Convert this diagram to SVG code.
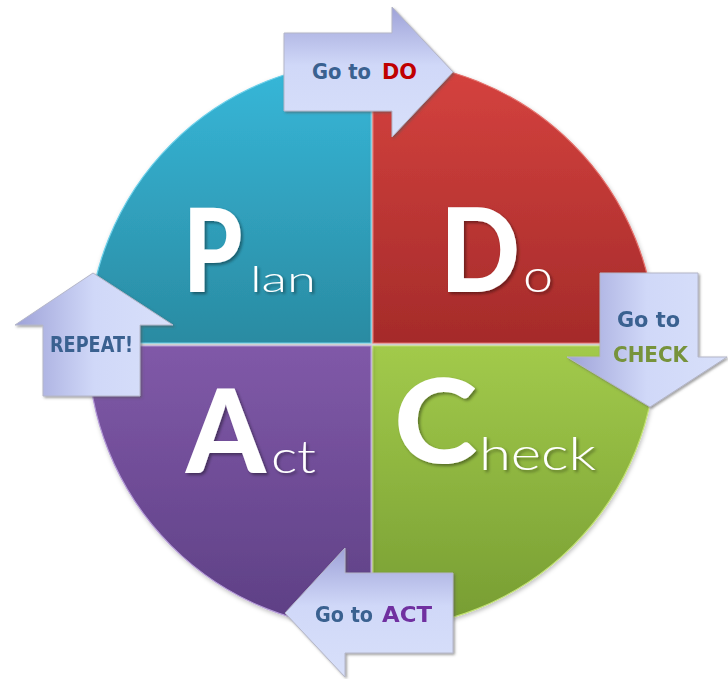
<svg xmlns="http://www.w3.org/2000/svg" width="728" height="679" viewBox="0 0 728 679">
<defs>
<linearGradient id="gTeal" gradientUnits="userSpaceOnUse" x1="0" y1="61" x2="0" y2="343"><stop offset="0" stop-color="#37b8da"/><stop offset="1" stop-color="#2a8ba2"/></linearGradient>
<linearGradient id="gRed" gradientUnits="userSpaceOnUse" x1="0" y1="61" x2="0" y2="343"><stop offset="0" stop-color="#d6433f"/><stop offset="1" stop-color="#a52b2a"/></linearGradient>
<linearGradient id="gPurple" gradientUnits="userSpaceOnUse" x1="0" y1="346" x2="0" y2="629"><stop offset="0" stop-color="#8059a8"/><stop offset="1" stop-color="#5d3f84"/></linearGradient>
<linearGradient id="gGreen" gradientUnits="userSpaceOnUse" x1="0" y1="346" x2="0" y2="629"><stop offset="0" stop-color="#a2ca4b"/><stop offset="1" stop-color="#769c32"/></linearGradient>
<linearGradient id="gArrV" x1="0" y1="0" x2="0" y2="1"><stop offset="0" stop-color="#9ea2d8"/><stop offset="0.45" stop-color="#d0d8f8"/><stop offset="1" stop-color="#d8e0fa"/></linearGradient>
<linearGradient id="gArrH" x1="0" y1="0" x2="1" y2="0"><stop offset="0" stop-color="#9ea2d8"/><stop offset="0.5" stop-color="#d0d8f8"/><stop offset="1" stop-color="#d8e0fa"/></linearGradient>
<filter id="shArrow" x="-10%" y="-10%" width="125%" height="125%"><feDropShadow dx="1.5" dy="1.5" stdDeviation="1.2" flood-color="#555" flood-opacity="0.55"/></filter>
<filter id="shText" x="-10%" y="-10%" width="130%" height="130%"><feDropShadow dx="2" dy="2" stdDeviation="1.5" flood-color="#000" flood-opacity="0.4"/></filter>
<filter id="shCircle" x="-10%" y="-10%" width="120%" height="120%"><feDropShadow dx="1" dy="2" stdDeviation="2" flood-color="#000" flood-opacity="0.25"/></filter>
</defs>
<style>
.big{font-family:Lato,"Open Sans","DejaVu Sans",sans-serif;font-weight:900;font-size:117px;fill:#fff;}
.small{font-family:Lato,"Open Sans","DejaVu Sans",sans-serif;font-weight:300;fill:#fff;}
.lbl{font-family:"DejaVu Sans","Open Sans",sans-serif;font-weight:bold;font-size:22px;}
.blue{fill:#3a6190;}
.arrow{stroke:#b4b6c8;stroke-width:1;filter:url(#shArrow);}
.quad{stroke-width:1.2;}
</style>
<rect width="728" height="679" fill="#fff"/>
<g id="plan" filter="url(#shCircle)">
<path class="quad" d="M371,343 V61 A284,284 0 0,0 88,343 Z" fill="url(#gTeal)" stroke="#6cd0ea"/>
<g filter="url(#shText)"><text class="big" transform="matrix(0.81,0,0,1,183,292)" x="0" y="0">P</text>
<text class="small" x="250" y="292" font-size="35" textLength="66" lengthAdjust="spacingAndGlyphs">lan</text></g>
</g>
<g id="do" filter="url(#shCircle)">
<path class="quad" d="M373,343 V61 A284,284 0 0,1 656,343 Z" fill="url(#gRed)" stroke="#e5716c"/>
<g filter="url(#shText)"><text class="big" transform="matrix(0.9,0,0,1,440,292)" x="0" y="0">D</text>
<text class="small" x="523" y="292" font-size="46" textLength="30" lengthAdjust="spacingAndGlyphs">o</text></g>
</g>
<g id="check" filter="url(#shCircle)">
<path class="quad" d="M373,346 H656 A284,284 0 0,1 373,629 Z" fill="url(#gGreen)" stroke="#c0e070"/>
<g filter="url(#shText)"><text class="big" transform="matrix(1.08,0,0,1,394,463)" x="0" y="0">C</text>
<text class="small" x="479" y="470" font-size="46" textLength="117" lengthAdjust="spacingAndGlyphs">heck</text></g>
</g>
<g id="act" filter="url(#shCircle)">
<path class="quad" d="M371,346 V629 A284,284 0 0,1 88,346 Z" fill="url(#gPurple)" stroke="#b49ad8"/>
<g filter="url(#shText)"><text class="big" transform="matrix(0.97,0,0,1,186,473)" x="0" y="0">A</text>
<text class="small" x="271" y="473" font-size="46" textLength="45" lengthAdjust="spacingAndGlyphs">ct</text></g>
</g>
<g id="connectors">
<g id="arrow-do">
<polygon class="arrow" points="284,33 392,33 392,7 453,72 392,137 392,111 284,111" fill="url(#gArrV)"/>
<text class="lbl blue" x="312" y="79" textLength="59" lengthAdjust="spacingAndGlyphs">Go to</text>
<text class="lbl" x="382" y="79" fill="#c00000" textLength="35" lengthAdjust="spacingAndGlyphs">DO</text>
</g>
<g id="arrow-check">
<polygon class="arrow" points="600,273 698,273 698,357 727,357 650,407 567,357 600,357" fill="url(#gArrH)"/>
<text class="lbl blue" x="617" y="327" textLength="63" lengthAdjust="spacingAndGlyphs">Go to</text>
<text class="lbl" x="613" y="362" fill="#77933c" textLength="75" lengthAdjust="spacingAndGlyphs">CHECK</text>
</g>
<g id="arrow-act">
<polygon class="arrow" points="453,573 345,573 345,548 285,613 345,677 345,653 453,653" fill="url(#gArrV)"/>
<text class="lbl blue" x="315" y="622" textLength="58" lengthAdjust="spacingAndGlyphs">Go to</text>
<text class="lbl" x="382" y="622" fill="#7030a0" textLength="50" lengthAdjust="spacingAndGlyphs">ACT</text>
</g>
<g id="arrow-repeat">
<polygon class="arrow" points="43,396 43,325 15,325 93,273 173,325 140,325 140,396" fill="url(#gArrH)"/>
<text class="lbl blue" x="50" y="352" textLength="83" lengthAdjust="spacingAndGlyphs">REPEAT!</text>
</g>
</g>
</svg>
